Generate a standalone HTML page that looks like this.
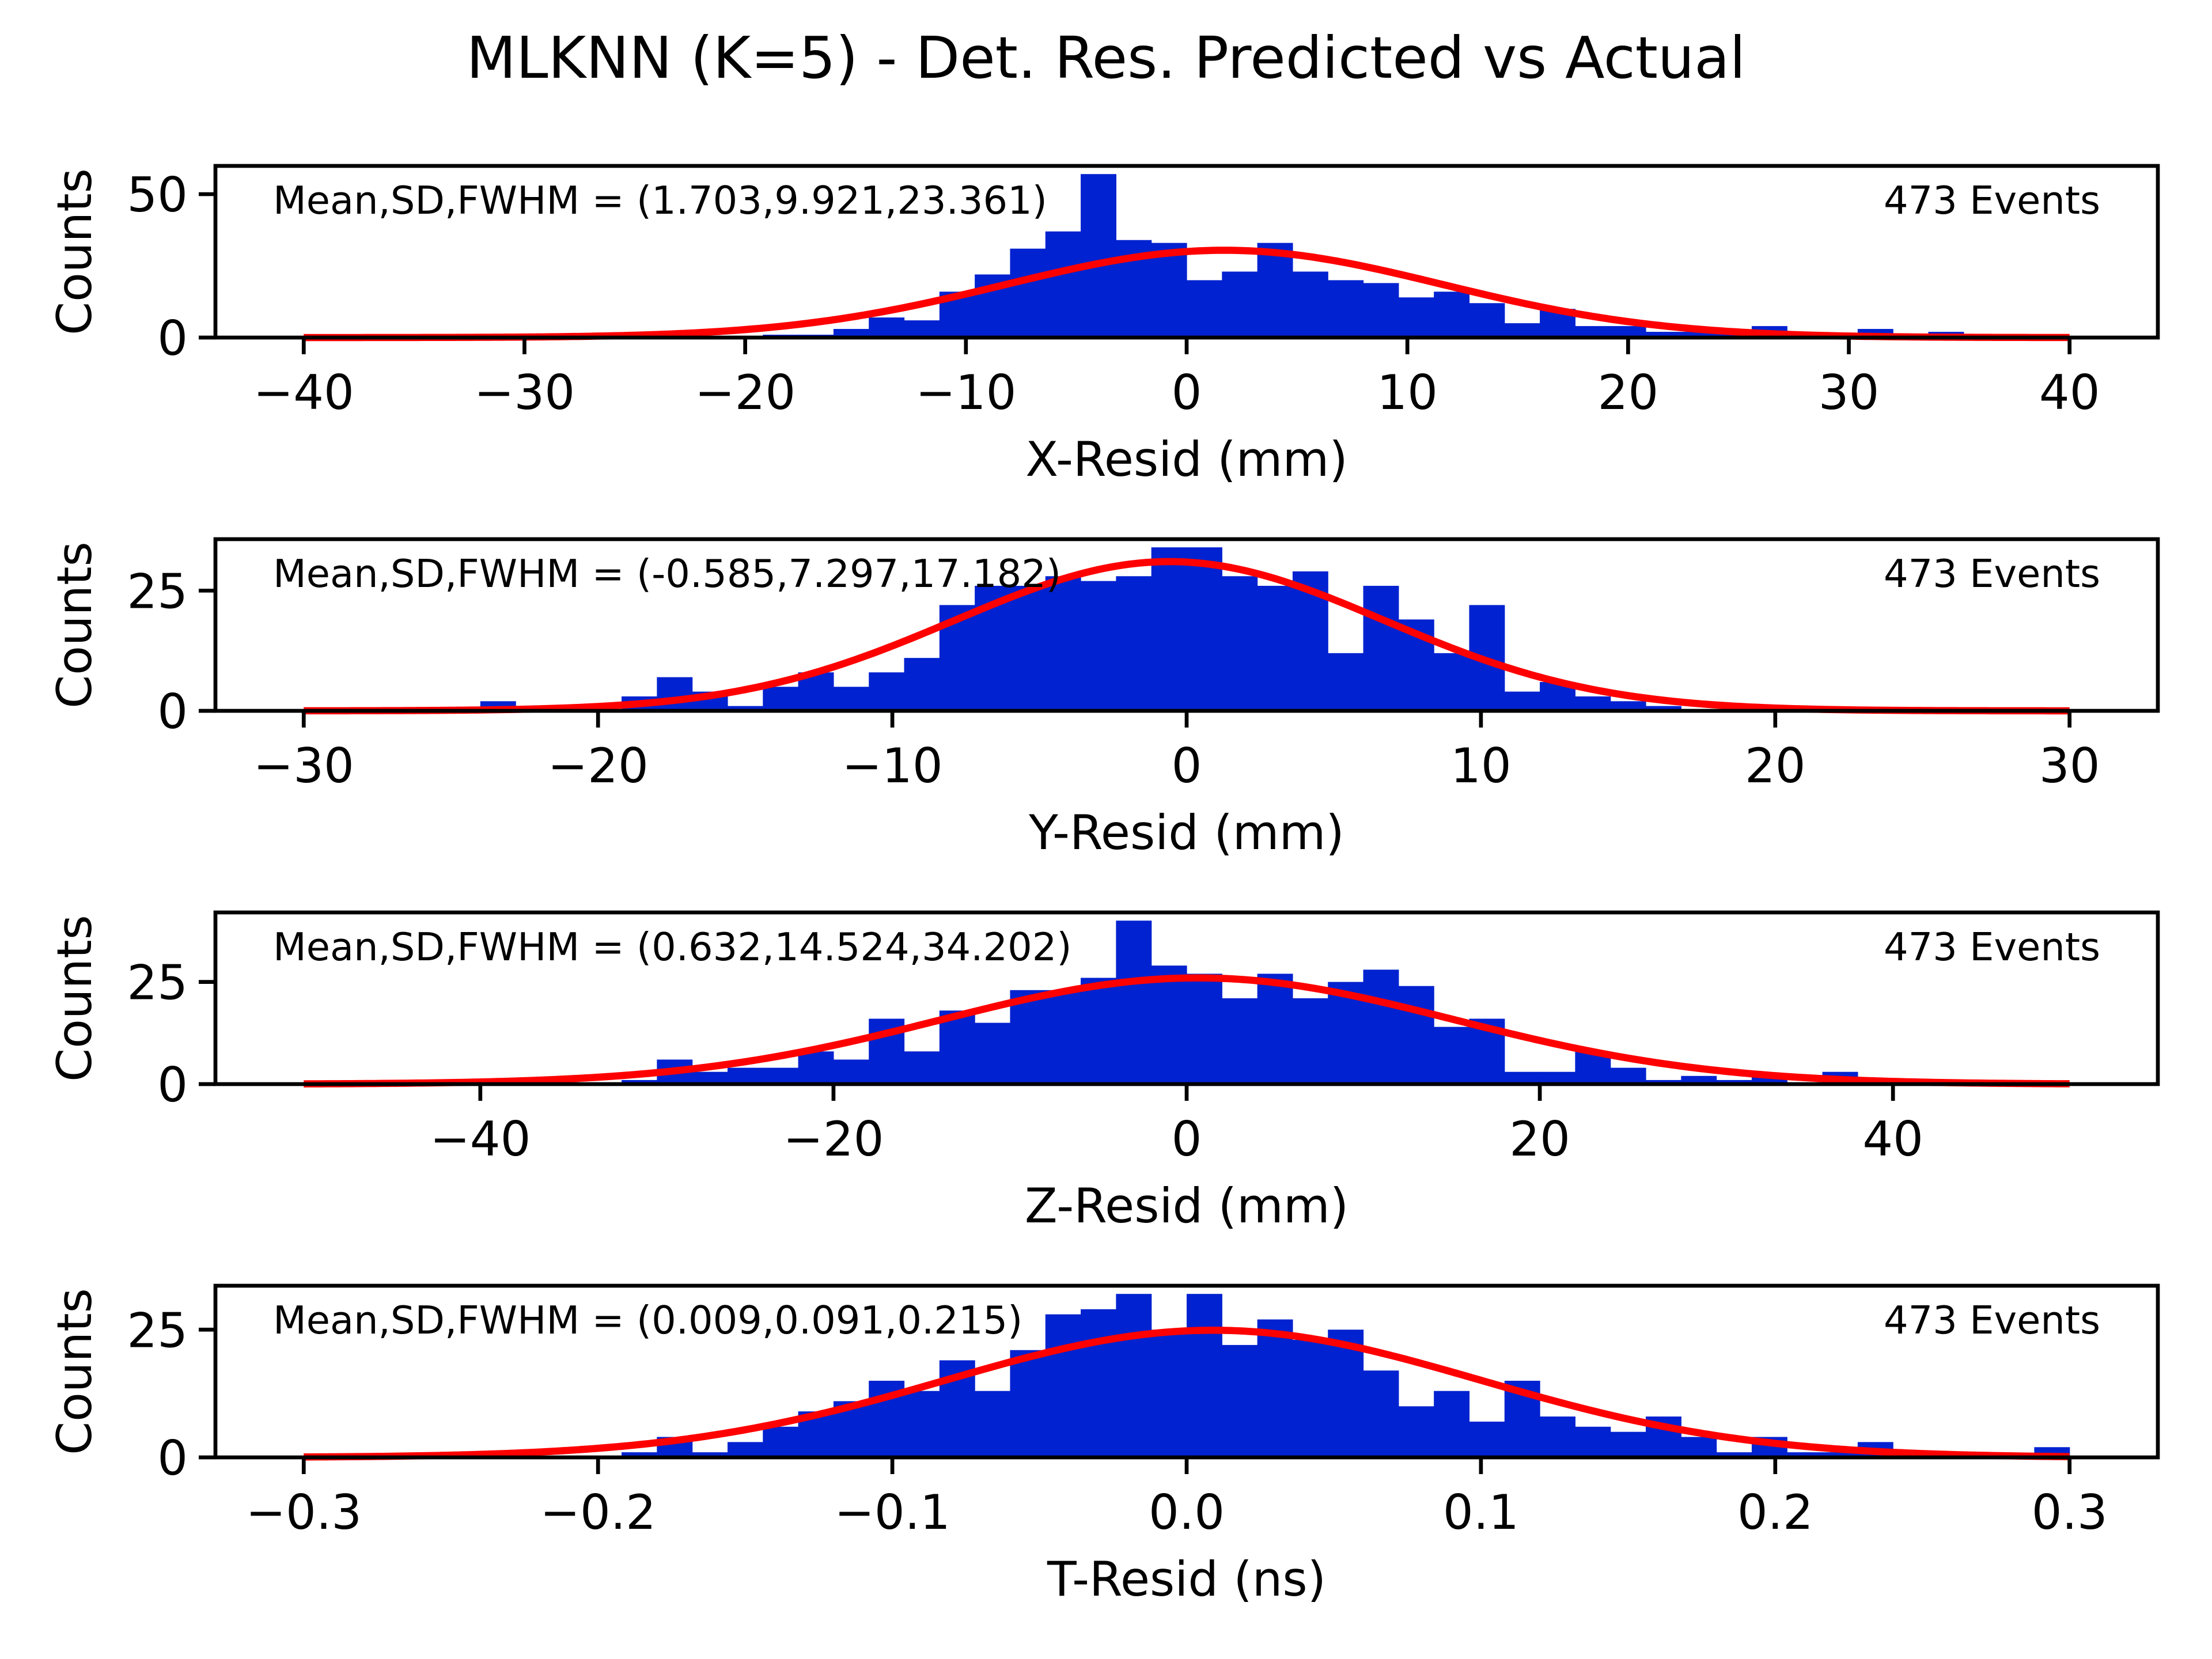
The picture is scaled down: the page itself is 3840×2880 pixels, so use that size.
<!DOCTYPE html>
<html><head><meta charset="utf-8">
<style>
html,body{margin:0;padding:0;background:#fff;}
svg{display:block;font-family:"DejaVu Sans","Liberation Sans",sans-serif;}
</style></head>
<body>
<svg id="fig" width="3840" height="2880" viewBox="0 0 3840 2880" xmlns="http://www.w3.org/2000/svg">
<rect width="3840" height="2880" fill="#fff"/>
<text x="1920" y="135" font-size="100" text-anchor="middle">MLKNN (K=5) - Det. Res. Predicted vs Actual</text>
</svg>
<script>
// ---- data ----
const xCounts = [0,0,0,0,0,0,0,0,0,0,0,0,0,1,1,3,7,6,16,22,31,37,57,34,33,20,23,33,23,20,19,14,16,12,5,10,4,4,2,2,2,4,1,1,3,1,2,0,0,0];
const yCounts = [0,0,0,0,0,2,0,0,0,3,7,4,1,5,8,5,8,11,22,26,26,28,27,28,34,34,28,26,29,12,26,19,12,22,4,6,3,2,1,0,0,0,0,0,0,0,0,0,0,0];
const zCounts = [0,0,0,0,0,0,0,0,0,1,6,3,4,4,8,6,16,8,18,15,23,23,26,40,29,27,21,27,21,25,28,24,14,16,3,3,8,4,1,2,1,2,0,3,0,0,0,0,0,0];
const tCounts = [0,0,0,0,0,0,0,0,0,1,4,1,3,6,9,11,15,13,19,13,21,28,29,32,25,32,22,27,23,25,17,10,13,7,15,8,6,5,8,4,1,4,1,1,3,0,0,0,0,2];
const ranges = [[-40,40],[-30,30],[-50,50],[-0.3,0.3]];
const means = [1.703,-0.585,0.632,0.009];
const sds = [9.921,7.297,14.524,0.091];
const fwhms = [23.361,17.182,34.202,0.215];
const xTicks = [[-40,-30,-20,-10,0,10,20,30,40],[-30,-20,-10,0,10,20,30],[-40,-20,0,20,40],[-0.3,-0.2,-0.1,0.0,0.1,0.2,0.3]];
const xTickLabels = [["−40","−30","−20","−10","0","10","20","30","40"],["−30","−20","−10","0","10","20","30"],["−40","−20","0","20","40"],["−0.3","−0.2","−0.1","0.0","0.1","0.2","0.3"]];
const yTicks = [[0,50],[0,25],[0,25],[0,25]];
const xLabels = ["X-Resid (mm)","Y-Resid (mm)","Z-Resid (mm)","T-Resid (ns)"];
const statLabels = ["(1.703,9.921,23.361)","(-0.585,7.297,17.182)","(0.632,14.524,34.202)","(0.009,0.091,0.215)"];
const nEvents = 473;
const allCounts = [xCounts,yCounts,zCounts,tCounts];
const panelNames = ["x","y","z","t"];

// ---- drawing ----
const NS="http://www.w3.org/2000/svg";
const svg=document.getElementById('fig');
function mk(tag,attrs,parent){const e=document.createElementNS(NS,tag);for(const k in attrs)e.setAttribute(k,attrs[k]);(parent||svg).appendChild(e);return e;}
const L=374,R=3746,TOPS=[288,936,1584,2232],H=298;

for(let p=0;p<4;p++){
  const counts=allCounts[p];
  const [lo,hi]=ranges[p];
  const span=hi-lo;
  const x0=lo-0.05*span,x1=hi+0.05*span;
  const ymax=Math.max(...counts)*1.05;
  const top=TOPS[p],bot=top+H;
  const sx=v=>L+(v-x0)/(x1-x0)*(R-L);
  const sy=v=>bot-v/ymax*H;
  const g=mk('g',{});
  
  
  const nb=counts.length,bw=span/nb;
  for(let i=0;i<nb;i++){
    if(!counts[i])continue;
    const a=sx(lo+i*bw),b=sx(lo+(i+1)*bw);
    const r=mk('rect',{x:a,y:sy(counts[i]),width:b-a+0.6,height:bot-sy(counts[i]),fill:'#0022d0'},g);
    
    
  }
  const amp=nEvents*bw/(sds[p]*Math.sqrt(2*Math.PI));
  let d='';
  for(let k=0;k<=400;k++){
    const v=lo+span*k/400;
    const c=amp*Math.exp(-0.5*Math.pow((v-means[p])/sds[p],2));
    d+=(k?'L':'M')+sx(v).toFixed(2)+' '+sy(c).toFixed(2);
  }
  const path=mk('path',{d:d,fill:'none',stroke:'#ff0000','stroke-width':12.5,'stroke-linejoin':'round'},g);
  
  
  const fr=mk('rect',{x:L,y:top,width:R-L,height:H,fill:'none',stroke:'#000','stroke-width':6.7},g);
  
  
  xTicks[p].forEach((t,j)=>{
    const x=sx(t);
    mk('line',{x1:x,x2:x,y1:bot,y2:bot+29,stroke:'#000','stroke-width':6.7},g);
    const tx=mk('text',{x:x,y:bot+124,'font-size':83,'text-anchor':'middle'},g);
    tx.textContent=xTickLabels[p][j];
    
    
  });
  yTicks[p].forEach(t=>{
    const y=sy(t);
    mk('line',{x1:L-29,x2:L,y1:y,y2:y,stroke:'#000','stroke-width':6.7},g);
    const tx=mk('text',{x:L-48,y:y+30,'font-size':83,'text-anchor':'end'},g);
    tx.textContent=String(t);
    
    
  });
  const xl=mk('text',{x:(L+R)/2,y:bot+240,'font-size':83,'text-anchor':'middle'},g);
  xl.textContent=xLabels[p];
  
  
  const yl=mk('text',{x:0,y:0,'font-size':83,'text-anchor':'middle',transform:'translate(158,'+(top+H/2)+') rotate(-90)'},g);
  yl.textContent='Counts';
  
  
  const st=mk('text',{x:474,y:top+83,'font-size':67},g);
  st.textContent='Mean,SD,FWHM = '+statLabels[p];
  
  
  const ev=mk('text',{x:3646,y:top+83,'font-size':67,'text-anchor':'end'},g);
  ev.textContent=nEvents+' Events';
  
  
}
</script>
</body></html>
